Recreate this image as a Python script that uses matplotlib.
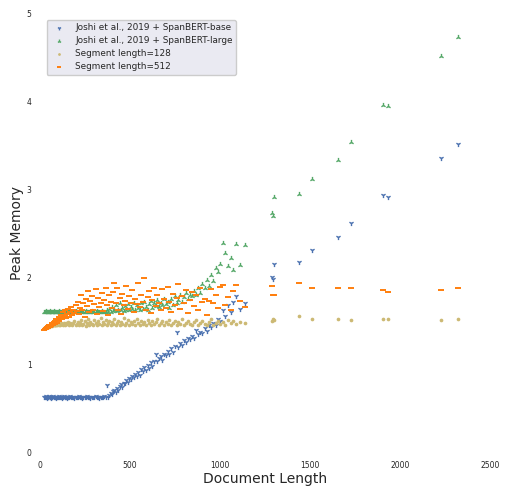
import matplotlib
matplotlib.use("Agg")
import matplotlib.pyplot as plt

# document lengths (shared by all four series)
doc_len = [25, 29, 33, 36, 40, 44, 47, 51, 55, 58, 62, 66, 70, 74, 78, 82, 86, 90, 95, 99,
           104, 108, 113, 118, 122, 127, 132, 137, 142, 147, 152, 158, 163, 169, 174, 180, 186, 192, 198, 204,
           210, 216, 222, 229, 235, 241, 248, 254, 261, 268, 274, 281, 288, 295, 302, 309, 316, 323, 330, 337,
           344, 351, 358, 365, 372, 379, 386, 393, 400, 407,
           414, 421, 428, 436, 443, 450, 458, 466, 473, 481, 489, 497, 505, 513, 521, 529, 538, 546, 555, 563,
           572, 580, 589, 598, 607, 616, 625, 634, 643, 652, 661, 671, 680, 690, 699,
           709, 719, 729, 739, 749, 759, 770, 780, 791, 801, 812, 823, 834, 845, 856, 868, 879, 891, 903, 915,
           927, 939, 952, 964, 977, 990, 1003, 1017, 1031, 1045, 1060, 1075, 1092, 1112, 1138,
           1289, 1296, 1300, 1441, 1513, 1657, 1726, 1904, 1933, 2231, 2324]

mem_base = [0.64, 0.64, 0.65, 0.64, 0.63, 0.64, 0.64, 0.65, 0.64, 0.64, 0.63, 0.64, 0.64, 0.65, 0.64, 0.64, 0.64, 0.63, 0.64, 0.64,
            0.65, 0.64, 0.64, 0.64, 0.63, 0.64, 0.65, 0.64, 0.64, 0.64, 0.63, 0.64, 0.64, 0.65, 0.64, 0.64, 0.64, 0.63, 0.64, 0.64,
            0.64, 0.65, 0.64, 0.64, 0.63, 0.64, 0.64, 0.64, 0.65, 0.64, 0.64, 0.63, 0.64, 0.64, 0.64, 0.65, 0.64, 0.64, 0.63, 0.64,
            0.64, 0.64, 0.65, 0.64, 0.77, 0.64, 0.66, 0.68, 0.67, 0.70,
            0.71, 0.69, 0.74, 0.72, 0.76, 0.78, 0.75, 0.80, 0.79, 0.83, 0.81, 0.85, 0.84, 0.88, 0.86, 0.90, 0.87, 0.92, 0.89, 0.95,
            0.93, 0.98, 0.94, 1.00, 0.97, 1.03, 0.99, 1.05, 1.12, 1.04, 1.08, 1.10, 1.06, 1.13, 1.11,
            1.16, 1.12, 1.19, 1.15, 1.22, 1.38, 1.20, 1.25, 1.23, 1.28, 1.26, 1.31, 1.29, 1.33, 1.31, 1.40, 1.35, 1.38, 1.36, 1.42,
            1.39, 1.45, 1.43, 1.48, 1.46, 1.52, 1.50, 1.62, 1.56, 1.68, 1.60, 1.72, 1.78, 1.64, 1.70,
            2.00, 1.98, 2.15, 2.17, 2.31, 2.46, 2.61, 2.93, 2.91, 3.35, 3.51]

mem_large = [1.60, 1.60, 1.60, 1.61, 1.60, 1.60, 1.60, 1.60, 1.61, 1.60, 1.60, 1.60, 1.60, 1.60, 1.61, 1.60, 1.60, 1.60, 1.60, 1.60,
             1.61, 1.60, 1.60, 1.60, 1.60, 1.60, 1.61, 1.60, 1.60, 1.60, 1.60, 1.60, 1.61, 1.60, 1.60, 1.60, 1.60, 1.60, 1.61, 1.60,
             1.60, 1.60, 1.61, 1.60, 1.60, 1.60, 1.60, 1.61, 1.60, 1.60, 1.60, 1.60, 1.61, 1.60, 1.60, 1.60, 1.61, 1.60, 1.60, 1.60,
             1.61, 1.60, 1.60, 1.60, 1.62, 1.60, 1.64, 1.60, 1.66, 1.61,
             1.62, 1.68, 1.61, 1.63, 1.70, 1.62, 1.65, 1.61, 1.67, 1.63, 1.69, 1.62, 1.66, 1.64, 1.71, 1.63, 1.68, 1.65, 1.62, 1.70,
             1.64, 1.72, 1.66, 1.63, 1.69, 1.73, 1.65, 1.70, 1.67, 1.74, 1.66, 1.71, 1.68, 1.75, 1.69,
             1.72, 1.65, 1.75, 1.68, 1.78, 1.70, 1.74, 1.80, 1.72, 1.77, 1.82, 1.75, 1.80, 1.78, 1.84, 1.80, 1.88, 1.82, 1.92, 1.87,
             1.97, 1.90, 2.02, 1.95, 2.10, 2.06, 2.15, 2.39, 2.27, 2.12, 2.22, 2.08, 2.37, 2.14, 2.36,
             2.73, 2.69, 2.91, 2.94, 3.11, 3.33, 3.53, 3.95, 3.94, 4.51, 4.73]

mem_seg128 = [1.42, 1.42, 1.43, 1.42, 1.43, 1.43, 1.44, 1.43, 1.44, 1.44, 1.45, 1.44, 1.45, 1.45, 1.46, 1.45, 1.46, 1.46, 1.45, 1.47,
              1.46, 1.47, 1.46, 1.48, 1.47, 1.46, 1.48, 1.47, 1.46, 1.48, 1.47, 1.49, 1.46, 1.48, 1.47, 1.45, 1.48, 1.50, 1.46, 1.47,
              1.49, 1.45, 1.48, 1.51, 1.46, 1.47, 1.50, 1.44, 1.48, 1.52, 1.46, 1.49, 1.47, 1.45, 1.51, 1.48, 1.46, 1.50, 1.47, 1.53,
              1.45, 1.49, 1.47, 1.51, 1.46, 1.48, 1.50, 1.45, 1.49, 1.47,
              1.52, 1.46, 1.48, 1.50, 1.45, 1.49, 1.47, 1.53, 1.46, 1.48, 1.51, 1.45, 1.49, 1.47, 1.50, 1.46, 1.52, 1.48, 1.45, 1.50,
              1.47, 1.49, 1.46, 1.51, 1.48, 1.45, 1.50, 1.47, 1.49, 1.52, 1.46, 1.48, 1.50, 1.45, 1.49,
              1.47, 1.51, 1.46, 1.48, 1.50, 1.45, 1.49, 1.47, 1.52, 1.46, 1.48, 1.50, 1.47, 1.45, 1.49, 1.51, 1.46, 1.48, 1.50, 1.47,
              1.45, 1.49, 1.52, 1.46, 1.48, 1.50, 1.47, 1.49, 1.46, 1.51, 1.48, 1.50, 1.47, 1.49, 1.48,
              1.50, 1.52, 1.51, 1.56, 1.52, 1.52, 1.51, 1.52, 1.52, 1.51, 1.52]

mem_seg512 = [1.40, 1.41, 1.42, 1.41, 1.43, 1.42, 1.44, 1.45, 1.43, 1.46, 1.44, 1.47, 1.48, 1.45, 1.49, 1.47, 1.50, 1.52, 1.48, 1.51,
              1.55, 1.50, 1.53, 1.57, 1.52, 1.60, 1.54, 1.56, 1.62, 1.53, 1.58, 1.64, 1.55, 1.60, 1.66, 1.57, 1.62, 1.59, 1.68, 1.61,
              1.72, 1.58, 1.65, 1.80, 1.62, 1.70, 1.55, 1.75, 1.67, 1.84, 1.60, 1.73, 1.78, 1.63, 1.69, 1.86, 1.58, 1.76, 1.66, 1.71,
              1.82, 1.61, 1.74, 1.87, 1.68, 1.57, 1.79, 1.72, 1.65, 1.83,
              1.93, 1.70, 1.87, 1.62, 1.76, 1.58, 1.81, 1.68, 1.73, 1.90, 1.64, 1.78, 1.71, 1.85, 1.60, 1.75, 1.69, 1.93, 1.66, 1.80,
              1.72, 1.99, 1.63, 1.77, 1.84, 1.59, 1.74, 1.88, 1.67, 1.79, 1.70, 1.62, 1.86, 1.75, 1.65,
              1.89, 1.72, 1.60, 1.81, 1.68, 1.76, 1.92, 1.64, 1.78, 1.70, 1.85, 1.59, 1.74, 1.83, 1.67, 1.79, 1.62, 1.88, 1.72, 1.75,
              1.57, 1.73, 1.86, 1.70, 1.80, 1.65, 1.89, 1.91, 1.68, 1.77, 1.62, 1.84, 1.91, 1.73, 1.66,
              1.90, 1.79, 1.80, 1.935, 1.87, 1.88, 1.88, 1.85, 1.83, 1.85, 1.87]

series_labels = ["Joshi et al., 2019 + SpanBERT-base", "Joshi et al., 2019 + SpanBERT-large",
                 "Segment length=128", "Segment length=512"]

fig = plt.figure(figsize=(5.05, 4.86), dpi=100)
ax = fig.add_axes([0.079, 0.068, 0.891, 0.905])

ax.scatter(doc_len, mem_base, marker="1", s=14, color="#4c72b0", linewidths=1.0, label=series_labels[0])
ax.scatter(doc_len, mem_large, marker="2", s=14, color="#55a868", linewidths=1.0, label=series_labels[1])
ax.scatter(doc_len, mem_seg128, marker="o", s=7, color="#ccb974", linewidths=0, label=series_labels[2])
ax.scatter(doc_len, mem_seg512, marker="_", s=16, color="#ff7f0e", linewidths=1.4, label=series_labels[3])

ax.set_xlim(0, 2500)
ax.set_ylim(0, 5)
ax.set_xticks([0, 500, 1000, 1500, 2000, 2500])
ax.set_yticks([0, 1, 2, 3, 4, 5])
ax.tick_params(length=0, labelsize=5.5, labelcolor="#262626", pad=6)
for s in ax.spines.values():
    s.set_visible(False)

ax.set_xlabel("Document Length", fontsize=10, color="#262626", labelpad=1)
ax.set_ylabel("Peak Memory", fontsize=10, color="#262626", labelpad=2)

leg = ax.legend(loc="upper left", fontsize=6.4, frameon=True, facecolor="#eaeaf2", edgecolor="#cccccc",
                framealpha=1.0, borderpad=0.4, handletextpad=0.8, markerscale=0.75, labelspacing=0.45,
                bbox_to_anchor=(0.005, 0.995))
for t in leg.get_texts():
    t.set_color("#262626")

fig.savefig("out.png", dpi=100)
